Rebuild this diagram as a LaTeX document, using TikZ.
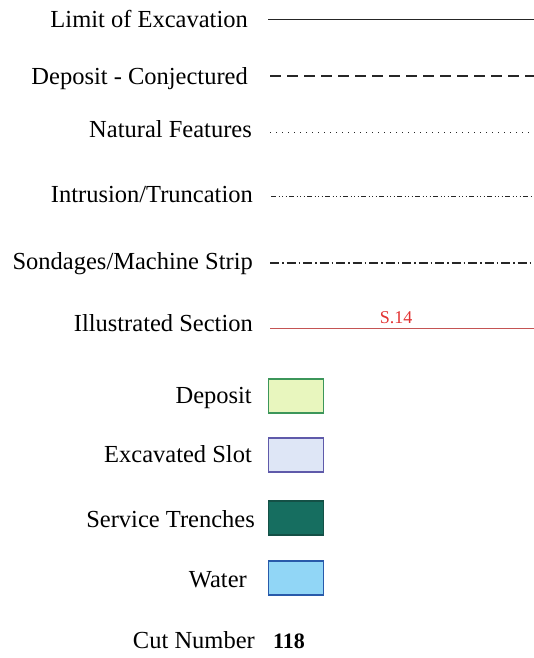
\documentclass[tikz,border=0pt]{standalone}
\usepackage{fontspec}
\setmainfont{Liberation Serif}
\usetikzlibrary{positioning}

\definecolor{sectred}{RGB}{226,50,50}
\definecolor{sectline}{RGB}{196,84,84}
\definecolor{depfill}{RGB}{232,246,190}
\definecolor{depdraw}{RGB}{60,150,90}
\definecolor{slotfill}{RGB}{222,230,246}
\definecolor{slotdraw}{RGB}{95,90,170}
\definecolor{trenchfill}{RGB}{22,110,96}
\definecolor{trenchdraw}{RGB}{20,80,70}
\definecolor{waterfill}{RGB}{145,214,246}
\definecolor{waterdraw}{RGB}{40,90,170}

\tikzset{
  lbl/.style={anchor=base east, inner sep=0pt, font=\fontsize{24.5}{24.5}\selectfont, text=black},
  key/.style={draw, line width=1.4pt, minimum width=55pt, minimum height=34pt, inner sep=0pt, anchor=west},
  sample/.style={line width=1pt, black!85}
}

\begin{document}
\begin{tikzpicture}[x=1pt, y=1pt]
  \useasboundingbox (0,0) rectangle (534,-658);

  % Line types

  \node[lbl] (limit) at (248,-28) {Limit of Excavation};
  \coordinate (limitA) at (268,-20);
  \coordinate (limitB) at (534,-20);
  \draw[sample] (limitA) -- (limitB);

  \node[lbl] (conj) at (248,-85) {Deposit - Conjectured};
  \coordinate (conjA) at (270,-76);
  \coordinate (conjB) at (534,-76);
  \draw[sample, line width=1.2pt, dash pattern=on 11pt off 6pt] (conjA) -- (conjB);

  \node[lbl] (natural) at (252,-137) {Natural Features};
  \coordinate (naturalA) at (270,-132);
  \coordinate (naturalB) at (534,-132);
  \draw[sample, line width=0.8pt, dash pattern=on 1pt off 5pt] (naturalA) -- (naturalB);

  \node[lbl] (intru) at (253,-202) {Intrusion/Truncation};
  \coordinate (intruA) at (271,-196);
  \coordinate (intruB) at (534,-196);
  \draw[sample, dash pattern=on 5pt off 2.5pt on 1pt off 2.5pt on 1pt off 2.5pt on 1pt off 2.5pt] (intruA) -- (intruB);

  \node[lbl] (sond) at (253,-269) {Sondages/Machine Strip};
  \coordinate (sondA) at (270,-263);
  \coordinate (sondB) at (534,-263);
  \draw[sample, line width=1.1pt, dash pattern=on 9pt off 3pt on 1.5pt off 3pt] (sondA) -- (sondB);

  \node[lbl] (illus) at (253,-331) {Illustrated Section};
  \coordinate (illusA) at (270,-328);
  \coordinate (illusB) at (534,-328);
  \draw[sectline, line width=1pt] (illusA) -- (illusB);
  \node[text=sectred, font=\fontsize{18}{18}\selectfont, inner sep=0pt, anchor=base] (s14) at (396,-323) {S.14};

  % Fills

  \node[lbl] (deplbl) at (252,-403) {Deposit};
  \node[key, draw=depdraw, fill=depfill] (depbox) at (268,-396) {};

  \node[lbl] (slotlbl) at (252,-462) {Excavated Slot};
  \node[key, draw=slotdraw, fill=slotfill] (slotbox) at (268,-455) {};

  \node[lbl] (trenchlbl) at (255,-527) {Service Trenches};
  \node[key, draw=trenchdraw, fill=trenchfill] (trenchbox) at (268,-518) {};

  \node[lbl] (waterlbl) at (247,-587) {Water};
  \node[key, draw=waterdraw, fill=waterfill] (waterbox) at (268,-578) {};

  % Cut number

  \node[lbl] (cutlbl) at (255,-648) {Cut Number};
  \node[lbl, anchor=base west, font=\fontsize{22}{22}\selectfont\bfseries] (cutno) at (273,-648) {118};

\end{tikzpicture}
\end{document}
